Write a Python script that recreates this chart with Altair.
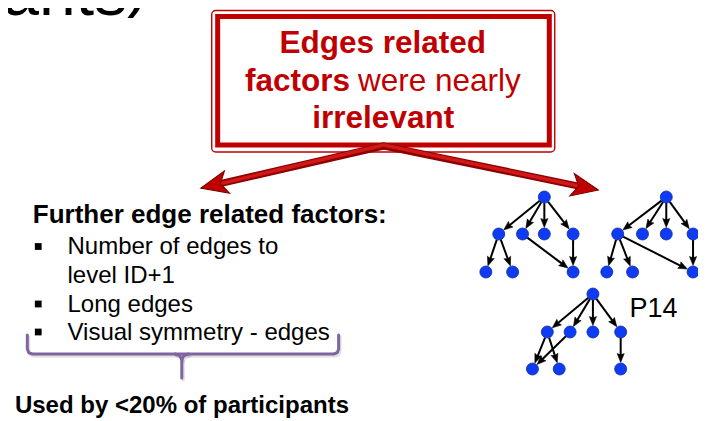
import math
import altair as alt
import pandas as pd

# ---------------- data (reference pixel space) ----------------
FONT = "Liberation Sans"
RED = "#C00000"
BLUE = "#0F3CF2"
PURPLE = "#8064A2"

title_fragment = ["ants"]
title_pos = [(128, 15)]
title_paren = [")"]
title_paren_pos = [(128, 4)]

box_outer = [(213.5, 10.5, 559.5, 152)]
box_inner = [(219.5, 16.5, 554, 145)]

box_bold_centered = ["Edges related", "irrelevant"]
box_bold_centered_pos = [(386, 53), (386.5, 128)]
box_line2_bold = ["factors"]
box_line2_bold_pos = [(247, 91)]
box_line2_regular = ["were nearly"]
box_line2_regular_pos = [(361, 91)]

arrow_start = (387, 146)
arrow_tips = [(203, 188), (603, 190)]

header = ["Further edge related factors:"]
header_pos = [(33, 223)]
bullet_lines = ["Number of edges to", "level ID+1", "Long edges", "Visual symmetry - edges"]
bullet_line_y = [254, 283, 312, 340]
bullet_text_x = 68
bullet_marks_y = [246.5, 304, 332]
bullet_mark_x = 38.5

brace_main = [(27.5, 335), (27.5, 349), (28.8, 352.6), (32.5, 354), (336.5, 354),
              (340.2, 352.6), (341.5, 349), (341.5, 335)]
brace_stem_left = [(176.5, 354), (181.2, 355.6), (183.3, 359.5), (183.3, 378)]
brace_stem_right = [(190.1, 354), (185.4, 355.6), (183.3, 359.5)]

footer = ["Used by <20% of participants"]
footer_pos = [(15, 413)]

tree1_nodes = [(549, 197), (503, 234), (527, 234), (549, 234), (578, 234),
               (490, 272), (517, 272), (578, 272)]
tree1_edges = [(0, 1), (0, 2), (0, 3), (0, 4), (1, 5), (1, 6), (2, 7), (4, 7)]
tree2_nodes = [(672, 197), (623, 234), (648, 234), (672, 234), (699, 234),
               (612, 272), (638, 272), (699, 272)]
tree2_edges = [(0, 1), (0, 2), (0, 3), (0, 4), (1, 5), (1, 6), (1, 7), (4, 7)]
tree3_nodes = [(598, 294), (552, 332), (575, 332), (598, 332), (626, 332),
               (537, 369), (564, 369), (626, 369)]
tree3_edges = [(0, 1), (0, 2), (0, 3), (0, 4), (1, 5), (1, 6), (2, 5), (4, 7)]
tree_label = ["P14"]
tree_label_pos = [(635, 317)]

# ---------------- scales ----------------
CW, CH = 690, 413
xs = alt.Scale(domain=[8, 704], nice=False, zero=False)
ys = alt.Scale(domain=[8, 8 + CH], nice=False, zero=False, reverse=True)


def X(f="x"):
    return alt.X(f"{f}:Q", scale=xs, axis=None)


def Y(f="y"):
    return alt.Y(f"{f}:Q", scale=ys, axis=None)


def texts(labels, pos):
    return pd.DataFrame({"x": [p[0] for p in pos], "y": [p[1] for p in pos], "t": labels})


def text_layer(df, size, weight="normal", color="black", align="left"):
    return alt.Chart(df).mark_text(
        font=FONT, fontSize=size, fontWeight=weight, color=color,
        align=align, baseline="alphabetic"
    ).encode(x=X(), y=Y(), text="t:N")


def unit(a, b):
    dx, dy = b[0] - a[0], b[1] - a[1]
    L = math.hypot(dx, dy)
    return dx / L, dy / L


def angle_of(ux, uy):
    return math.degrees(math.atan2(ux, -uy)) % 360


layers = []

# title fragment (mostly cut off at the top)
layers.append(text_layer(texts(title_fragment, title_pos), 66, align="right"))
layers.append(text_layer(texts(title_paren, title_paren_pos), 66, align="left"))

# red box
def rect_df(rs):
    return pd.DataFrame({"x": [r[0] for r in rs], "y": [r[1] for r in rs],
                         "x2": [r[2] for r in rs], "y2": [r[3] for r in rs]})

layers.append(alt.Chart(rect_df(box_outer)).mark_rect(
    filled=False, stroke=RED, strokeWidth=1.4, cornerRadius=4
).encode(x=X(), y=Y(), x2="x2:Q", y2="y2:Q"))
layers.append(alt.Chart(rect_df(box_inner)).mark_rect(
    filled=False, stroke=RED, strokeWidth=5
).encode(x=X(), y=Y(), x2="x2:Q", y2="y2:Q"))

layers.append(text_layer(texts(box_bold_centered, box_bold_centered_pos), 31.5, "bold", RED, "center"))
layers.append(text_layer(texts(box_line2_bold, box_line2_bold_pos), 31.5, "bold", RED, "left"))
layers.append(text_layer(texts(box_line2_regular, box_line2_regular_pos), 31.5, "normal", RED, "left"))

# big 3D red arrows
shaft_rows, head_rows = [], []
for tip in arrow_tips:
    ux, uy = unit(arrow_start, tip)
    shaft_rows.append({"x": arrow_start[0], "y": arrow_start[1],
                       "x2": tip[0] - ux * 16, "y2": tip[1] - uy * 16})
    head_rows.append({"x": tip[0] - ux * 13, "y": tip[1] - uy * 13, "a": angle_of(ux, uy)})
shafts = pd.DataFrame(shaft_rows)
heads = pd.DataFrame(head_rows)
layers.append(alt.Chart(shafts).mark_rule(stroke="#8E0000", strokeWidth=7, strokeCap="round").encode(
    x=X(), y=Y(), x2="x2:Q", y2="y2:Q"))
layers.append(alt.Chart(shafts).mark_rule(stroke="#D01818", strokeWidth=3.5, yOffset=-1, strokeCap="round").encode(
    x=X(), y=Y(), x2="x2:Q", y2="y2:Q"))
layers.append(alt.Chart(heads).mark_point(
    shape="M0,-1L0.85,1L0,0.5L-0.85,1Z", filled=True, fill="#C00000", stroke="#7A0000",
    strokeWidth=1, opacity=1, size=729
).encode(x=X(), y=Y(), angle=alt.Angle("a:Q", scale=None)))

# left text block
layers.append(text_layer(texts(header, header_pos), 26, "bold"))
layers.append(text_layer(
    texts(bullet_lines, [(bullet_text_x, y) for y in bullet_line_y]), 24))
layers.append(alt.Chart(pd.DataFrame({"x": [bullet_mark_x] * len(bullet_marks_y), "y": bullet_marks_y}))
              .mark_square(color="black", size=46, opacity=1).encode(x=X(), y=Y()))

# purple brace
brace_rows = []
for seg, pts in enumerate([brace_main, brace_stem_left, brace_stem_right]):
    for i, (px, py) in enumerate(pts):
        brace_rows.append({"x": px, "y": py, "seg": seg, "o": i})
brace = pd.DataFrame(brace_rows)
layers.append(alt.Chart(brace).mark_line(
    stroke="#000000", strokeWidth=3, opacity=0.12, xOffset=1.5, yOffset=2,
    strokeJoin="round", strokeCap="round"
).encode(x=X(), y=Y(), detail="seg:N", order="o:Q"))
layers.append(alt.Chart(brace).mark_line(
    stroke=PURPLE, strokeWidth=3, strokeJoin="round", strokeCap="round"
).encode(x=X(), y=Y(), detail="seg:N", order="o:Q"))

layers.append(text_layer(texts(footer, footer_pos), 24, "bold"))

# trees
R = 6
HEAD = 9
edge_rows, ehead_rows, node_rows = [], [], []
for t, (nodes, edges) in enumerate([(tree1_nodes, tree1_edges), (tree2_nodes, tree2_edges),
                                    (tree3_nodes, tree3_edges)]):
    for (nx, ny) in nodes:
        node_rows.append({"x": nx, "y": ny})
    for a, b in edges:
        pa, pb = nodes[a], nodes[b]
        ux, uy = unit(pa, pb)
        tipx, tipy = pb[0] - ux * (R + 0.5), pb[1] - uy * (R + 0.5)
        edge_rows.append({"x": pa[0] + ux * R, "y": pa[1] + uy * R,
                          "x2": tipx - ux * HEAD * 0.7, "y2": tipy - uy * HEAD * 0.7})
        ehead_rows.append({"x": tipx - ux * HEAD / 2, "y": tipy - uy * HEAD / 2,
                           "a": angle_of(ux, uy)})

layers.append(alt.Chart(pd.DataFrame(edge_rows)).mark_rule(stroke="black", strokeWidth=2).encode(
    x=X(), y=Y(), x2="x2:Q", y2="y2:Q"))
layers.append(alt.Chart(pd.DataFrame(ehead_rows)).mark_point(
    shape="M0,-1L0.8,1L0,0.7L-0.8,1Z", filled=True, fill="black", stroke="black",
    strokeWidth=0.5, opacity=1, size=HEAD * HEAD
).encode(x=X(), y=Y(), angle=alt.Angle("a:Q", scale=None)))
layers.append(alt.Chart(pd.DataFrame(node_rows)).mark_circle(
    size=(2 * R) ** 2, color=BLUE, opacity=1, stroke="#0A2AA8", strokeWidth=0.8
).encode(x=X(), y=Y()))

layers.append(text_layer(texts(tree_label, tree_label_pos), 27))

chart = alt.layer(*layers).properties(
    width=CW, height=CH, padding=0, autosize="none", background="white"
).configure_view(stroke=None)

chart.save("out.html", embed_options={"renderer": "svg", "actions": False})
